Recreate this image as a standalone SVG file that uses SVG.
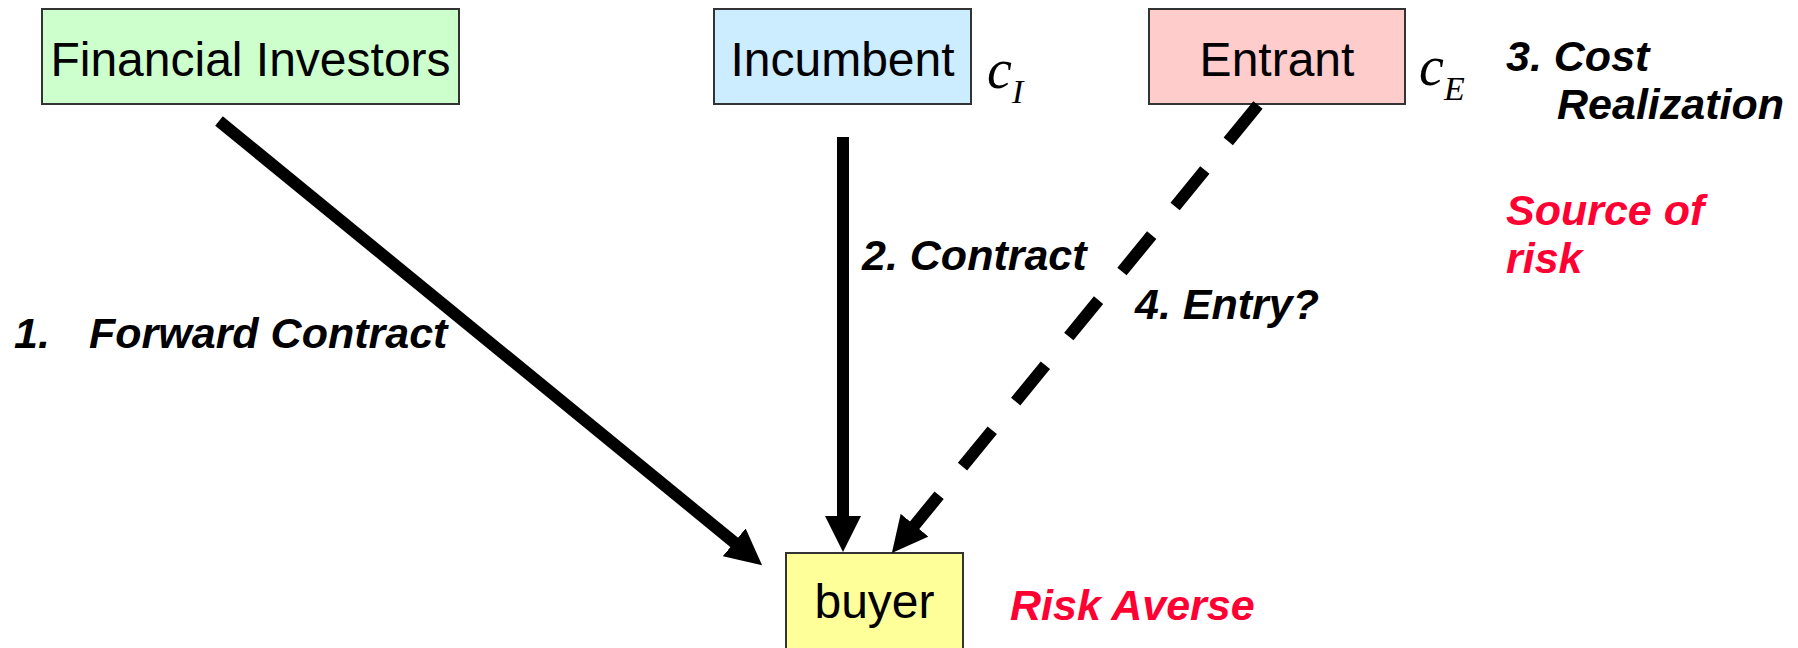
<svg xmlns="http://www.w3.org/2000/svg" width="1798" height="648" viewBox="0 0 1798 648">
  <style>
    .box { stroke: #333333; stroke-width: 2; }
    .name { font-family: "Liberation Sans", Arial, sans-serif; font-size: 48px; fill: #000000; text-anchor: middle; }
    .label { font-family: "Liberation Sans", Arial, sans-serif; font-size: 43px; font-weight: bold; font-style: italic; fill: #000000; }
    .risk { fill: #FF0033; }
    .cost { font-family: "Liberation Serif", "Times New Roman", serif; font-style: italic; font-size: 56px; fill: #000000; }
    .sub { font-size: 34px; }
    .link { stroke: #000000; stroke-width: 12; fill: none; stroke-linecap: butt; }
  </style>
  <defs>
    <marker id="head" markerUnits="userSpaceOnUse" markerWidth="36" markerHeight="36" viewBox="0 0 36 36" refX="1" refY="18" orient="auto">
      <path d="M0,0 L36,18 L0,36 Z" fill="#000000"/>
    </marker>
  </defs>

  <rect width="1798" height="648" fill="#FFFFFF"/>

  <g id="financial-investors">
    <rect class="box" x="42" y="9" width="417" height="95" fill="#CCFFCC"/>
    <text class="name" x="250.5" y="76">Financial Investors</text>
  </g>

  <g id="incumbent">
    <rect class="box" x="714" y="9" width="257" height="95" fill="#CCECFF"/>
    <text class="name" x="842.5" y="76">Incumbent</text>
    <text class="cost" x="987" y="88">c<tspan class="sub" x="1012" y="103">I</tspan></text>
  </g>

  <g id="entrant">
    <rect class="box" x="1149" y="9" width="256" height="95" fill="#FFCCCC"/>
    <text class="name" x="1277" y="76">Entrant</text>
    <text class="cost" x="1419" y="85">c<tspan class="sub" x="1444" y="100">E</tspan></text>
  </g>

  <g id="buyer">
    <rect class="box" x="786" y="553" width="177" height="110" fill="#FFFF99"/>
    <text class="name" x="874.5" y="618">buyer</text>
  </g>

  <g id="connectors">
    <line class="link" x1="219" y1="121" x2="735" y2="543" marker-end="url(#head)"/>
    <line class="link" x1="843" y1="137" x2="843" y2="517" marker-end="url(#head)"/>
    <line class="link" x1="1258" y1="105" x2="914" y2="526" stroke-dasharray="47 37" marker-end="url(#head)"/>
  </g>

  <g id="labels">
    <text class="label" x="14" y="348">1. <tspan x="89">Forward Contract</tspan></text>
    <text class="label" x="862" y="270">2. Contract</text>
    <text class="label" x="1506" y="71">3. Cost</text>
    <text class="label" x="1557" y="119">Realization</text>
    <text class="label" x="1135" y="319">4. Entry?</text>
    <text class="label risk" x="1506" y="225">Source of</text>
    <text class="label risk" x="1506" y="273">risk</text>
    <text class="label risk" x="1010" y="620">Risk Averse</text>
  </g>
</svg>
